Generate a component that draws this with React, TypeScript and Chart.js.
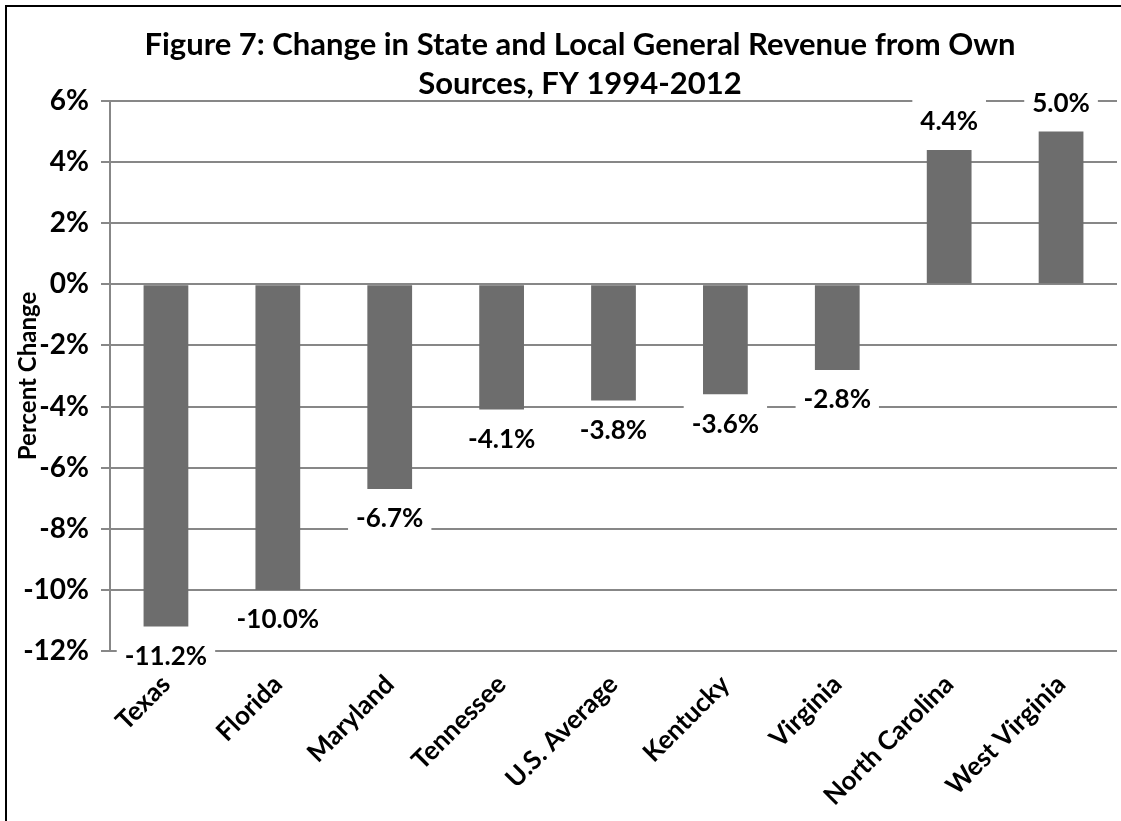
import React, { useEffect, useRef } from "react";
import { Chart, registerables } from "chart.js";

Chart.register(...registerables);

const categories = [
  "Texas",
  "Florida",
  "Maryland",
  "Tennessee",
  "U.S. Average",
  "Kentucky",
  "Virginia",
  "North Carolina",
  "West Virginia",
];
const values = [-11.2, -10.0, -6.7, -4.1, -3.8, -3.6, -2.8, 4.4, 5.0];
const yMin = -12;
const yMax = 6;
const yStep = 2;
const titleLines = [
  "Figure 7: Change in State and Local General Revenue from Own",
  "Sources, FY 1994-2012",
];
const yAxisTitle = "Percent Change";

const FONT = "Lato, 'Open Sans', 'DejaVu Sans', sans-serif";
const GRID = "#878787";
const BAR = "#6d6d6d";

const titlePlugin = {
  id: "customTitle",
  afterDraw(chart: any) {
    const ctx = chart.ctx;
    ctx.save();
    ctx.fillStyle = "#000";
    ctx.font = `bold 31px ${FONT}`;
    ctx.textAlign = "center";
    ctx.textBaseline = "middle";
    const cx = 580;
    ctx.fillText(titleLines[0], cx, 45);
    ctx.fillText(titleLines[1], cx, 84);
    ctx.restore();
  },
};

const labelPlugin = {
  id: "valueLabels",
  afterDatasetsDraw(chart: any) {
    const ctx = chart.ctx;
    const meta = chart.getDatasetMeta(0);
    ctx.save();
    ctx.font = `bold 26px ${FONT}`;
    ctx.textAlign = "center";
    ctx.textBaseline = "middle";
    meta.data.forEach((bar: any, i: number) => {
      const v = values[i];
      const text = v.toFixed(1) + "%";
      const y = v < 0 ? bar.y + 29 : bar.y - 29;
      const w = ctx.measureText(text).width;
      const up = v < 0 ? 20 : 22;
      ctx.fillStyle = "#fff";
      ctx.fillRect(bar.x - w / 2 - 8, y - up, w + 16, 42);
      ctx.fillStyle = "#000";
      ctx.fillText(text, bar.x, y + 1);
    });
    ctx.restore();
  },
};

export default function App() {
  const ref = useRef<HTMLCanvasElement | null>(null);

  useEffect(() => {
    document.body.style.margin = "0";
    const chart = new Chart(ref.current as HTMLCanvasElement, {
      type: "bar",
      data: {
        labels: categories,
        datasets: [
          {
            data: values,
            backgroundColor: BAR,
            borderWidth: 0,
            categoryPercentage: 1,
            barPercentage: 0.4,
          },
        ],
      },
      options: {
        animation: false,
        responsive: false,
        layout: { padding: { top: 101, left: 12, right: 4, bottom: 0 } },
        plugins: {
          legend: { display: false },
          title: { display: false },
          tooltip: { enabled: false },
        },
        scales: {
          x: {
            grid: { display: false },
            border: { display: false },
            ticks: {
              color: "#000",
              font: { family: FONT, size: 26, weight: "bold" },
              minRotation: 45,
              maxRotation: 45,
              autoSkip: false,
              padding: 10,
            },
            afterFit(scale: any) {
              scale.height = 170;
            },
          },
          y: {
            min: yMin,
            max: yMax,
            ticks: {
              stepSize: yStep,
              color: "#000",
              font: { family: FONT, size: 28, weight: "bold" },
              padding: 12,
              callback: (v: any) => v + "%",
            },
            grid: {
              color: GRID,
              lineWidth: 2,
              tickLength: 9,
              drawTicks: true,
            },
            border: { display: true, color: GRID, width: 2 },
            title: {
              display: true,
              text: yAxisTitle,
              color: "#000",
              font: { family: FONT, size: 24, weight: "bold" },
              padding: { top: 2, bottom: 0 },
            },
            afterFit(scale: any) {
              scale.width = 98;
            },
          },
        },
      },
      plugins: [labelPlugin, titlePlugin],
    });
    return () => chart.destroy();
  }, []);

  return (
    <div
      style={{
        position: "fixed",
        left: 0,
        top: 0,
        width: 1121,
        height: 821,
        overflow: "hidden",
        background: "#fff",
      }}
    >
      <canvas ref={ref} width={1121} height={821} style={{ position: "absolute", left: 0, top: 0 }} />
      <div
        style={{
          position: "absolute",
          left: 5,
          top: 5,
          width: 1200,
          height: 900,
          borderLeft: "2px solid #000",
          borderTop: "2px solid #000",
          pointerEvents: "none",
        }}
      />
    </div>
  );
}
